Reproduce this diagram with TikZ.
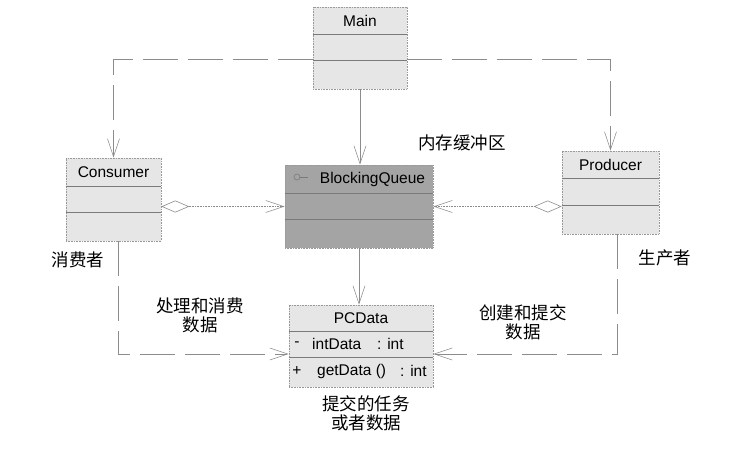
\documentclass[tikz,border=0pt]{standalone}
\usepackage{fontspec}
\setmainfont{Liberation Sans}
\newfontfamily\cjk{Noto Sans CJK SC}
\usetikzlibrary{arrows.meta,calc}
\definecolor{boxgray}{HTML}{E6E6E6}
\definecolor{bqgray}{HTML}{A4A4A4}
\definecolor{linegray}{HTML}{8C8C8C}
\definecolor{compgray}{HTML}{7A7A7A}
\begin{document}
\begin{tikzpicture}[x=1pt,y=-1pt,
  cls/.style={draw=gray!80, densely dotted, fill=boxgray, inner sep=0pt, line width=0.6pt},
  bqcls/.style={cls, fill=bqgray},
  comp/.style={draw=compgray, line width=0.6pt},
  title/.style={font=\fontsize{15.5}{18}\selectfont, inner sep=0pt, anchor=center},
  member/.style={font=\fontsize{15.5}{18}\selectfont, inner sep=0pt, anchor=west},
  lbl/.style={font=\cjk\fontsize{17.5}{19}\selectfont, align=center, inner sep=0pt},
  opentip/.style={-{Straight Barb[length=18pt,width=12pt]}},
  dep/.style={draw=linegray, line width=0.6pt, dash pattern=on 35pt off 10pt, opentip},
  solidarr/.style={draw=linegray, line width=0.6pt, opentip},
  agg/.style={draw=linegray, line width=0.6pt, densely dotted,
     {Diamond[open,length=28pt,width=12pt,line width=0.6pt,fill=white]}-{Straight Barb[length=18pt,width=12pt]}}
]
\useasboundingbox (0,0) rectangle (749,456);

% ---- class boxes ----
\node[cls, minimum width=94pt, minimum height=82pt] (main) at (360,48) {};
\node[cls, minimum width=95pt, minimum height=83pt] (cons) at (113.5,199.5) {};
\node[bqcls, minimum width=148pt, minimum height=83pt] (bq) at (359,206.5) {};
\node[cls, minimum width=97pt, minimum height=83pt] (prod) at (610.5,192.5) {};
\node[cls, minimum width=144pt, minimum height=82pt] (pc) at (361,346) {};

% compartments
\draw[comp] ($(main.north west)+(0,28)$) -- ($(main.north east)+(0,28)$);
\draw[comp] ($(main.north west)+(0,54)$) -- ($(main.north east)+(0,54)$);
\draw[comp] ($(cons.north west)+(0,29)$) -- ($(cons.north east)+(0,29)$);
\draw[comp] ($(cons.north west)+(0,55)$) -- ($(cons.north east)+(0,55)$);
\draw[comp] ($(bq.north west)+(0,29)$) -- ($(bq.north east)+(0,29)$);
\draw[comp] ($(bq.north west)+(0,55)$) -- ($(bq.north east)+(0,55)$);
\draw[comp] ($(prod.north west)+(0,28)$) -- ($(prod.north east)+(0,28)$);
\draw[comp] ($(prod.north west)+(0,55)$) -- ($(prod.north east)+(0,55)$);
\draw[comp] ($(pc.north west)+(0,27)$) -- ($(pc.north east)+(0,27)$);
\draw[comp] ($(pc.north west)+(0,53)$) -- ($(pc.north east)+(0,53)$);

% titles
\node[title] (mainT) at (360,21) {Main};
\node[title] (consT) at (113.5,172) {Consumer};
\node[title] (bqT) at (372.5,179) {BlockingQueue};
\node[title] (prodT) at (610.5,165) {Producer};
\node[title] (pcT) at (361,318) {PCData};

% interface icon
\draw[draw=compgray, line width=0.6pt] (297,177) circle (3pt);
\draw[draw=compgray, line width=0.6pt] (300,177) -- (308,177);

% members
\node[title] (m1s) at (297,344) {-};
\node[member] (m1n) at (312,344) {intData};
\node[member] (m1t) at (377,344) {: int};
\node[title] (m2s) at (297,371) {+};
\node[member] (m2n) at (317,371) {getData ()};
\node[member] (m2t) at (400,371) {: int};

% ---- connectors ----
\draw[dep] ([yshift=-11pt]main.west) -| (cons.north);
\draw[dep] ([yshift=-11pt]main.east) -| (prod.north);
\draw[solidarr] (main.south) -- (main.south |- bq.north);
\draw[solidarr] (bq.south) -- (bq.south |- pc.north);
\draw[agg] (cons.east |- bq.west) -- (bq.west);
\draw[agg] (prod.west |- bq.east) -- (bq.east);
\draw[dep] ([xshift=4.5pt]cons.south) |- ([yshift=-8pt]pc.west);
\draw[dep] ([xshift=6.5pt]prod.south) |- ([yshift=-8pt]pc.east);

% ---- labels ----
\node[lbl] (lblBuf) at (462,143) {内存缓冲区};
\node[lbl] (lblCons) at (78,260) {消费者};
\node[lbl] (lblProd) at (665,258) {生产者};
\node[lbl] (lblUse) at (200,315) {处理和消费\\数据};
\node[lbl] (lblMake) at (523,322) {创建和提交\\数据};
\node[lbl] (lblTask) at (366,413) {提交的任务\\或者数据};
\end{tikzpicture}
\end{document}
